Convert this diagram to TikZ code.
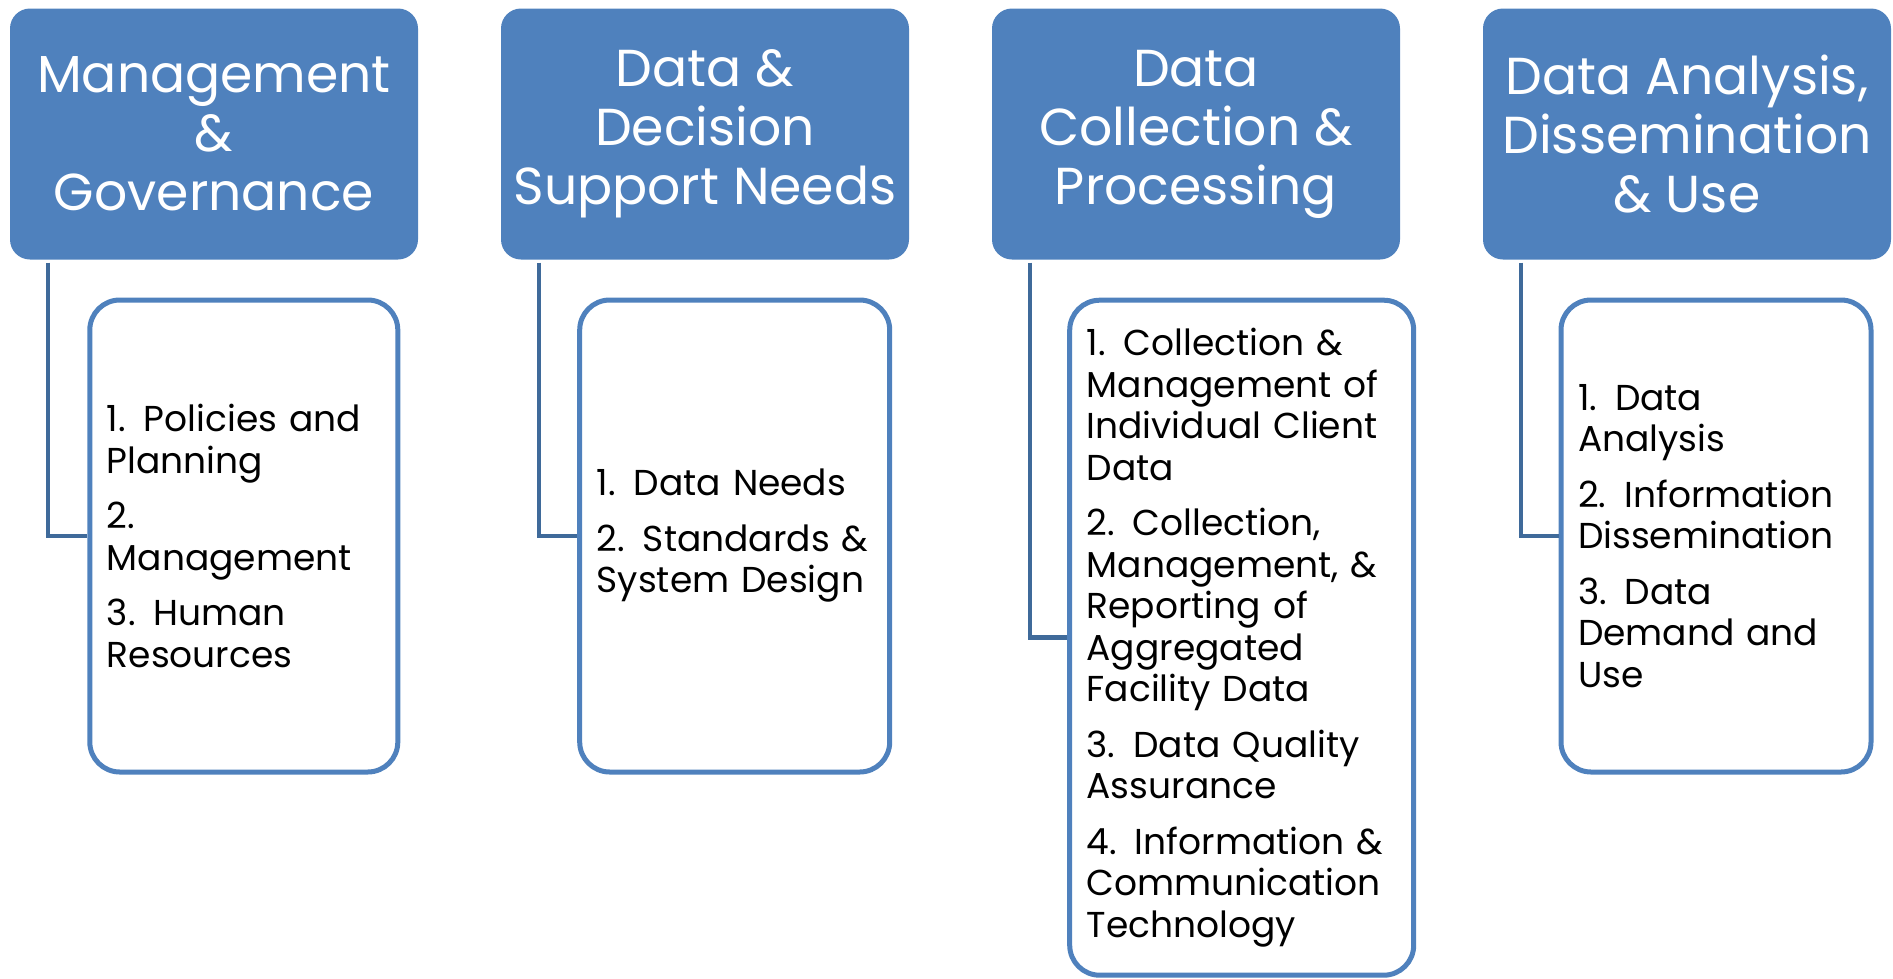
\documentclass[tikz,border=0pt]{standalone}
\usepackage{fontspec}
\setmainfont{Poppins}
\usetikzlibrary{positioning}

\definecolor{headblue}{HTML}{4F81BD}
\definecolor{linkblue}{HTML}{3F6A9A}

\tikzset{
  headbox/.style={rectangle, rounded corners=20pt, fill=headblue, minimum width=408pt,
    minimum height=251pt, inner sep=0pt, text=white, align=center,
    font=\fontsize{52}{59}\selectfont},
  itembox/.style={rectangle, rounded corners=30pt, draw=headblue, line width=5pt, fill=white,
    inner xsep=17pt, inner ysep=0pt, align=left, font=\fontsize{36}{41.5}\selectfont},
  link/.style={draw=linkblue, line width=4.5pt}
}

\begin{document}
\begin{tikzpicture}[x=1pt,y=-1pt]
  \useasboundingbox (0,0) rectangle (1893,978);

  % top row
  \foreach \i/\x/\head in {1/214/{Management\\\&\\Governance},
                           2/705/{Data \&\\Decision\\Support Needs},
                           3/1196/{Data\\Collection \&\\Processing},
                           4/1687/{Data Analysis,\\Dissemination\\\& Use}}
    \node[headbox] (top\i) at (\x,134) {\head};

  % lists
  \node[itembox, text width=274pt, minimum height=472pt] (sub1) at (243.8,536)
    {1. Policies and\\Planning\\[14pt]2.\\Management\\[14pt]3. Human\\Resources};
  \node[itembox, text width=276pt, minimum height=472pt] (sub2) at (734.7,536)
    {1. Data Needs\\[14pt]2. Standards \&\\System Design};
  \node[itembox, text width=310pt, minimum height=675pt] (sub3) at (1241.7,637.7)
    {1. Collection \&\\Management of\\Individual Client\\Data\\[14pt]2. Collection,\\Management, \&\\Reporting of\\Aggregated\\Facility Data\\[14pt]3. Data Quality\\Assurance\\[14pt]4. Information \&\\Communication\\Technology};
  \node[itembox, text width=276pt, minimum height=472pt] (sub4) at (1716,536)
    {1. Data\\Analysis\\[14pt]2. Information\\Dissemination\\[14pt]3. Data\\Demand and\\Use};

  % connectors
  \foreach \i in {1,...,4}
    \draw[link] ([xshift=38pt,yshift=-3pt]top\i.south west) |- (sub\i.west);
\end{tikzpicture}
\end{document}
